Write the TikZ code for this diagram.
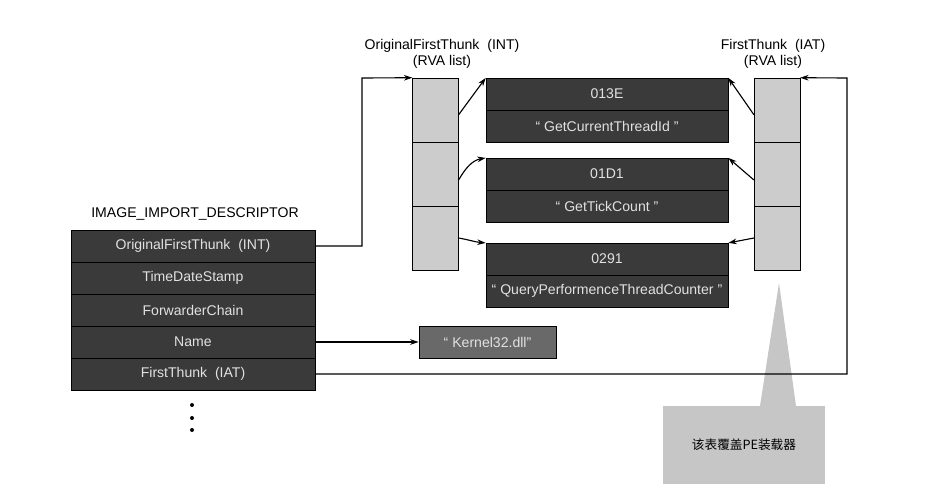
\documentclass[tikz,border=0pt]{standalone}
\usepackage{fontspec}
\setmainfont{Liberation Sans}
\newfontfamily\cjk{Noto Sans CJK SC}
\usepackage{tikz}
\usetikzlibrary{arrows.meta}

\definecolor{boxdark}{RGB}{58,58,58}
\definecolor{cellgray}{RGB}{204,204,204}
\definecolor{dllgray}{RGB}{105,105,105}
\definecolor{notegray}{RGB}{198,198,198}
\definecolor{rowtext}{RGB}{225,225,225}

\begin{document}
\begin{tikzpicture}
          [x = 0.025cm, y = -0.025cm, >= {Stealth[length = 6pt, width = 4pt]},
           font = \fontsize{10}{11}\selectfont,
           descrow/.style = {draw, fill = boxdark, text = rowtext, minimum width = 6.1cm,
                             minimum height = 0.8cm, inner sep = 0pt},
           namerow/.style = {draw, fill = boxdark, text = rowtext, minimum width = 6.05cm,
                             minimum height = 0.79cm, inner sep = 0pt},
           rvacell/.style = {draw, fill = cellgray, minimum width = 1.14cm,
                             minimum height = 1.6cm, inner sep = 0pt},
           link/.style = {line width = 0.8pt}]
          \useasboundingbox (0,0) rectangle (938,500);
          % loader note
          \fill[notegray] (760,406) -- (779,283) -- (796,406) -- cycle;
          \node[fill = notegray, minimum width = 4.05cm, minimum height = 1.95cm] (note)
                at (744,445) {\cjk\fontsize{9}{10}\selectfont 该表覆盖PE装载器};
          % descriptor
          \node (desctitle) at (195,214) {IMAGE\_IMPORT\_DESCRIPTOR};
          \node[descrow] (desc1) at (193,246) {OriginalFirstThunk\ \ (INT)};
          \node[descrow] (desc2) at (193,278) {TimeDateStamp};
          \node[descrow] (desc3) at (193,310) {ForwarderChain};
          \node[descrow] (desc4) at (193,342) {Name};
          \node[descrow] (desc5) at (193,374) {FirstThunk\ \ (IAT)};
          \fill (192,405) circle (2) (192,418) circle (2) (192,430) circle (2);
          % RVA lists
          \node[align = center] (intlabel) at (442,54) {OriginalFirstThunk\ \ (INT)\\(RVA list)};
          \node[align = center] (iatlabel) at (773,54) {FirstThunk\ \ (IAT)\\(RVA list)};
          \foreach \i/\y in {1/110, 2/174, 3/238}
            {
              \node[rvacell] (int\i) at (435.5,\y) {};
              \node[rvacell] (iat\i) at (777,\y) {};
            }
          % hint / name
          \node[namerow] (hint1) at (607,94) {013E};
          \node[namerow, anchor = north] (name1) at (hint1.south) {“ GetCurrentThreadId ”};
          \node[namerow] (hint2) at (607,174) {01D1};
          \node[namerow, anchor = north] (name2) at (hint2.south) {“ GetTickCount ”};
          \node[namerow] (hint3) at (607,259) {0291};
          \node[namerow, anchor = north] (name3) at (hint3.south) {“ QueryPerformenceThreadCounter ”};
          \node[draw, fill = dllgray, text = rowtext, minimum width = 3.43cm, minimum height = 0.8cm]
                (dll) at (487.5,342) {“ Kernel32.dll”};
          % connectors
          \coordinate (intin) at (362,78);
          \coordinate (iatin) at (847,78);
          \draw[link, ->] (desc1.east) -| (intin) -- (int1.north west);
          \draw[link, ->] (desc5.east) -| (iatin) -- (iat1.north east);
          \draw[link, ->] (desc4.east) -- (dll.west);
          \draw[link, ->] ([yshift = -0.12cm]int1.east) -- (hint1.north west);
          \draw[link, ->] ([yshift = -0.15cm]int2.east) to[out = 60, in = 190] (hint2.north west);
          \draw[link, ->] (int3.east) to[out = -10, in = 175] (hint3.north west);
          \draw[link, ->] ([yshift = -0.12cm]iat1.west) -- (hint1.north east);
          \draw[link, ->] ([yshift = -0.15cm]iat2.west) -- (hint2.north east);
          \draw[link, ->] (iat3.west) -- (hint3.north east);
        \end{tikzpicture}
\end{document}
